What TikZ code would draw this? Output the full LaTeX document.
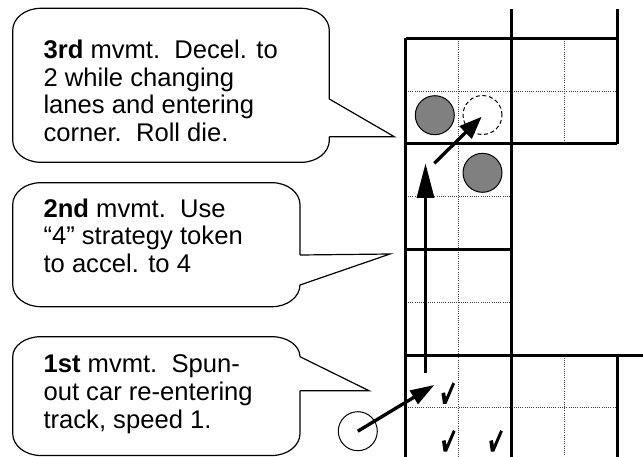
\documentclass[tikz,border=0pt]{standalone}
\usepackage{fontspec}
\setmainfont{Liberation Sans}
\usetikzlibrary{arrows.meta}

\tikzset{
  trackline/.style={line width=2.4pt},
  laneline/.style={line width=0.7pt, black!75, dash pattern=on 0.75pt off 0.9pt},
  callout/.style={line width=0.9pt, line join=miter},
  tailline/.style={line width=0.9pt, line join=miter},
  notetext/.style={anchor=base west, align=left, inner sep=0pt,
    font=\fontsize{19.2}{20.85}\selectfont},
  car/.style={circle, draw, line width=0.75pt, fill=black!50, minimum size=29.25pt, inner sep=0pt},
  ghostcar/.style={circle, draw, line width=0.75pt, dash pattern=on 3pt off 2pt, minimum size=29.25pt, inner sep=0pt},
  spuncar/.style={circle, draw, line width=0.75pt, minimum size=29.25pt, inner sep=0pt},
  movearrow/.style={line width=2.5pt},
  corner/.style={x radius=21pt, y radius=16.5pt},
  checkmk/.pic={
    \fill (-3,-10) -- (0.5,-11) -- (1.5,-6) -- (8,-21) -- (10.5,-19.5)
          -- (2,0.5) -- (-1.5,0.5) -- cycle;
  }
}

\begin{document}
\begin{tikzpicture}[x=0.75pt, y=-0.75pt]
\useasboundingbox (0,0) rectangle (643,457);

% lane divisions (dotted)
\draw[laneline] (458.5,38.3) -- (458.5,457);
\draw[laneline] (564,38.3) -- (564,143.8);
\draw[laneline] (564,355.3) -- (564,457);
\draw[laneline] (405.7,91.1) -- (617.3,91.1);
\draw[laneline] (405.7,196.6) -- (511.3,196.6);
\draw[laneline] (405.7,302.2) -- (511.3,302.2);
\draw[laneline] (405.7,407.7) -- (617.3,407.7);

% track walls and space boundaries
\draw[trackline] (405.7,38.3) -- (405.7,457);
\draw[trackline] (511.3,9) -- (511.3,457);
\draw[trackline] (617.3,9) -- (617.3,143.8);
\draw[trackline] (617.3,355.3) -- (617.3,457);
\draw[trackline] (405.7,38.3) -- (617.3,38.3);
\draw[trackline] (405.7,143.8) -- (617.3,143.8);
\draw[trackline] (405.7,249.4) -- (511.3,249.4);
\draw[trackline] (405.7,355.3) -- (643,355.3);

% cars
\node[car] (carA) at (434.8,115.2) {};
\node[ghostcar] (ghost) at (482.5,115) {};
\node[car] (carB) at (482.5,172.8) {};
\node[spuncar] (spun) at (357.8,431.2) {};

% spaces already used
\pic at (444.5,403.3) {checkmk};
\pic at (445,451) {checkmk};
\pic at (492.3,451) {checkmk};

% movement arrows
\coordinate (upstart) at (425.5,373.3);
\coordinate (upend) at (425.5,163.3);
\coordinate (diagstart) at (434.3,163.3);
\coordinate (diagend) at (481.7,116.7);
\coordinate (reentry) at (434.3,385);
\draw[movearrow, -{Triangle[length=26pt,width=12.75pt]}] (upstart) -- (upend);
\draw[movearrow, -{Triangle[length=17pt,width=12.75pt]}] (diagstart) -- (diagend);
\draw[movearrow, -{Triangle[length=18pt,width=11.5pt]}] (spun.center) -- (reentry);

% callout: 3rd movement (text placed by its last baseline)
\draw[callout] (329.3,99) -- (329.3,30.3) arc[start angle=0, end angle=90, corner]
  -- (40.7,8.3) arc[start angle=90, end angle=180, corner]
  -- (12.7,140.3) arc[start angle=180, end angle=270, corner]
  -- (301.3,162.3) arc[start angle=270, end angle=360, corner] -- (329.3,136.7);
\draw[tailline] (329.3,136.7) -- (394.3,136.7) -- (329.3,99);
\node[notetext] (note3) at (43.3,141.7)
  {\textbf{3rd} mvmt.\ \ Decel. to\\2 while changing\\lanes and entering\\corner.\ \ Roll die.};

% callout: 2nd movement
\draw[callout] (300,255) -- (300,204.7) arc[start angle=0, end angle=90, corner]
  -- (40.7,182.7) arc[start angle=90, end angle=180, corner]
  -- (12.7,284.7) arc[start angle=180, end angle=270, corner]
  -- (272,306.7) arc[start angle=270, end angle=360, corner] -- (300,285);
\draw[tailline] (300,285) -- (390,254) -- (300,255);
\node[notetext] (note2) at (43.3,272.7)
  {\textbf{2nd} mvmt.\ \ Use\\“4” strategy token\\to accel. to 4};

% callout: 1st movement
\draw[callout] (300,356.7) arc[start angle=0, end angle=90, x radius=21pt, y radius=15pt]
  -- (40.7,336.7) arc[start angle=90, end angle=180, x radius=21pt, y radius=15pt]
  -- (12.7,433.5) arc[start angle=180, end angle=270, corner]
  -- (272,455.5) arc[start angle=270, end angle=360, corner] -- (300,390.7);
\draw[tailline] (300,390.7) -- (369,390.7) -- (300,356.7);
\node[notetext] (note1) at (43.3,428.3)
  {\textbf{1st} mvmt.\ \ Spun-\\out car re-entering\\track, speed 1.};
\end{tikzpicture}
\end{document}
